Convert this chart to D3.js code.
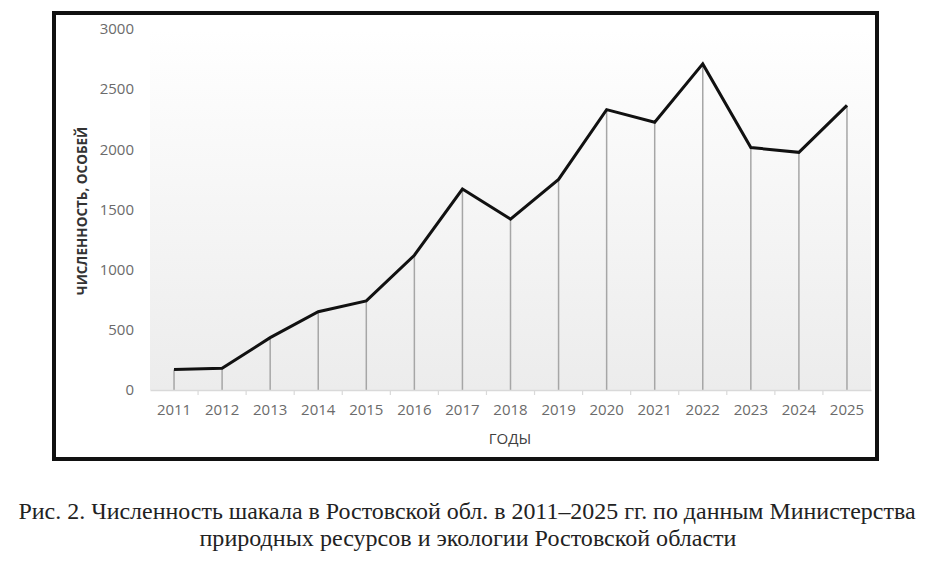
<!DOCTYPE html>
<html lang="ru">
<head>
<meta charset="UTF-8">
<title>Численность шакала в Ростовской обл.</title>
<script src="https://cdn.jsdelivr.net/npm/d3@7"></script>
<style>
  body { margin: 0; background: #fff; }
  svg { display: block; }
</style>
</head>
<body>
<script>
// data
var years = ["2011","2012","2013","2014","2015","2016","2017","2018","2019","2020","2021","2022","2023","2024","2025"];
var counts = [170, 180, 435, 650, 740, 1120, 1670, 1420, 1750, 2330, 2225, 2710, 2015, 1975, 2365];
var yTicks = [0, 500, 1000, 1500, 2000, 2500, 3000];
var captionLines = [
  "Рис. 2. Численность шакала в Ростовской обл. в 2011–2025 гг. по данным Министерства",
  "природных ресурсов и экологии Ростовской области"
];

var W = 938, H = 580;
var svg = d3.select("body").append("svg").attr("width", W).attr("height", H);

var plot = {left: 150, right: 871, top: 29, bottom: 390};

var x = d3.scaleBand().domain(years).range([plot.left, plot.right]);
var y = d3.scaleLinear().domain([0, 3000]).range([plot.bottom, plot.top]);

// soft gradient behind the plot
var grad = svg.append("defs").append("linearGradient")
  .attr("id", "bg").attr("x1", 0).attr("y1", 0).attr("x2", 0).attr("y2", 1);
grad.append("stop").attr("offset", "0%").attr("stop-color", "#ffffff");
grad.append("stop").attr("offset", "100%").attr("stop-color", "#ececec");

svg.append("rect")
  .attr("x", plot.left).attr("y", plot.top)
  .attr("width", plot.right - plot.left).attr("height", plot.bottom - plot.top)
  .attr("fill", "url(#bg)");

// drop lines
svg.append("g").selectAll("line").data(years).join("line")
  .attr("x1", function(d) { return x(d) + x.bandwidth() / 2; })
  .attr("x2", function(d) { return x(d) + x.bandwidth() / 2; })
  .attr("y1", function(d, i) { return y(counts[i]); })
  .attr("y2", y(0))
  .attr("stroke", "#a6a6a6").attr("stroke-width", 1.5);

// x axis
var xAxis = svg.append("g").attr("transform", "translate(0," + y(0) + ")")
  .call(d3.axisBottom(x).tickSize(0).tickPadding(14));
xAxis.select(".domain").attr("stroke", "#d9d9d9").attr("stroke-width", 1.5);
xAxis.selectAll("text").attr("fill", "#6b6b6b")
  .style("font-family", "'Open Sans', sans-serif").style("font-size", "15px");

// small ticks between categories
svg.append("g").selectAll("line").data(years.slice(1)).join("line")
  .attr("x1", function(d) { return x(d); }).attr("x2", function(d) { return x(d); })
  .attr("y1", y(0)).attr("y2", y(0) + 5)
  .attr("stroke", "#d9d9d9").attr("stroke-width", 1.2);

// y axis
var yAxis = svg.append("g").attr("transform", "translate(" + 134 + ",0)")
  .call(d3.axisLeft(y).tickValues(yTicks).tickFormat(d3.format("d")).tickSize(0).tickPadding(0));
yAxis.select(".domain").remove();
yAxis.selectAll("text").attr("fill", "#6b6b6b")
  .style("font-family", "'Open Sans', sans-serif").style("font-size", "15px");

// line
var line = d3.line()
  .x(function(d, i) { return x(years[i]) + x.bandwidth() / 2; })
  .y(function(d) { return y(d); });
svg.append("path").datum(counts)
  .attr("d", line)
  .attr("fill", "none").attr("stroke", "#111").attr("stroke-width", 3)
  .attr("stroke-linejoin", "miter");

// axis titles
svg.append("text")
  .attr("transform", "translate(87,211) rotate(-90)")
  .attr("text-anchor", "middle")
  .attr("fill", "#333").attr("font-weight", "bold")
  .style("font-family", "'Open Sans', sans-serif").style("font-size", "13.5px")
  .text("ЧИСЛЕННОСТЬ, ОСОБЕЙ");

svg.append("text")
  .attr("x", 510).attr("y", 444)
  .attr("text-anchor", "middle")
  .attr("fill", "#404040")
  .style("font-family", "'Open Sans', sans-serif").style("font-size", "15px")
  .text("ГОДЫ");

// frame
svg.append("rect")
  .attr("x", 54).attr("y", 13).attr("width", 823).attr("height", 446)
  .attr("fill", "none").attr("stroke", "#111").attr("stroke-width", 4);

// caption
svg.append("text")
  .attr("x", 467).attr("y", 519).attr("text-anchor", "middle")
  .attr("textLength", 897).attr("lengthAdjust", "spacingAndGlyphs")
  .attr("fill", "#222")
  .style("font-family", "'Liberation Serif', serif").style("font-size", "24px")
  .text(captionLines[0]);
svg.append("text")
  .attr("x", 468).attr("y", 546).attr("text-anchor", "middle")
  .attr("textLength", 537).attr("lengthAdjust", "spacingAndGlyphs")
  .attr("fill", "#222")
  .style("font-family", "'Liberation Serif', serif").style("font-size", "24px")
  .text(captionLines[1]);
</script>
</body>
</html>
